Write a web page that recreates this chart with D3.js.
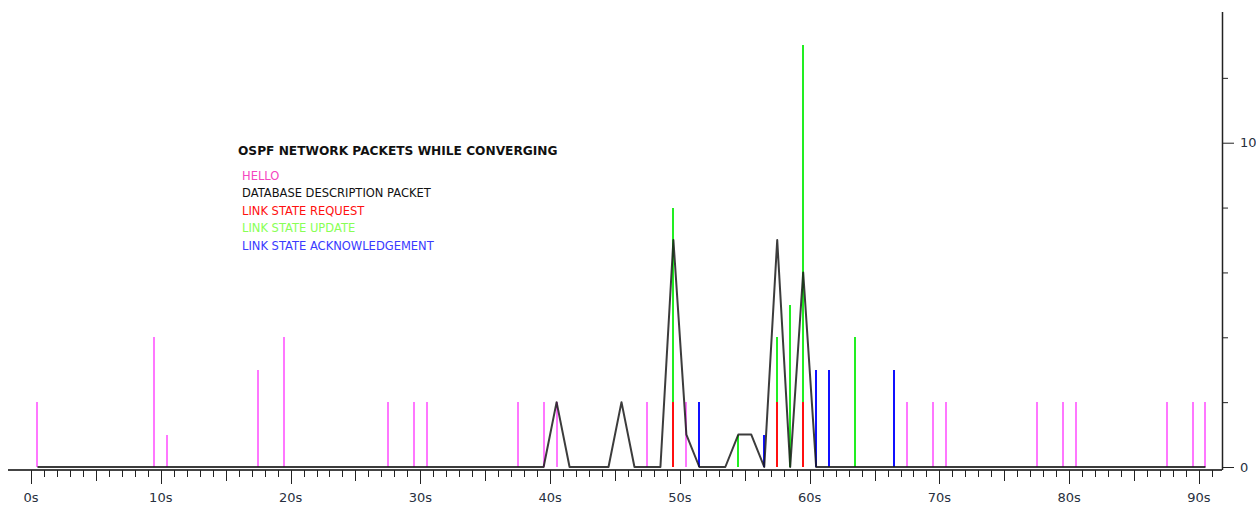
<!DOCTYPE html>
<html>
<head>
<meta charset="utf-8">
<script src="https://cdn.jsdelivr.net/npm/d3@7"></script>
<style>
  body { margin: 0; background: #fff; }
  svg { display: block; }
  text { font-family: Tahoma, "DejaVu Sans", sans-serif; }
</style>
</head>
<body>
<div id="wrapper"></div>
<script>
'use strict';

// packet counts per second
const helloTimes   = [0.5, 9.5, 10.5, 17.5, 19.5, 27.5, 29.5, 30.5, 37.5, 39.5, 40.5, 47.5, 50.5, 67.5, 69.5, 70.5, 77.5, 79.5, 80.5, 87.5, 89.5, 90.5];
const helloCounts  = [2, 4, 1, 3, 4, 2, 2, 2, 2, 2, 2, 2, 2, 2, 2, 2, 2, 2, 2, 2, 2, 2];

const updateTimes  = [49.5, 54.5, 57.5, 58.5, 59.5, 63.5];
const updateCounts = [8, 1, 4, 5, 13, 4];

const requestTimes  = [49.5, 57.5, 59.5];
const requestCounts = [2, 2, 2];

const ackTimes  = [51.5, 56.5, 60.5, 61.5, 66.5];
const ackCounts = [2, 1, 3, 3, 3];

// database description packets, drawn as a line (vertices where the line bends)
const dbdTimes  = [0.5, 39.5, 40.5, 41.5, 44.5, 45.5, 46.5, 48.5, 49.5, 50.5, 51.5, 53.5, 54.5, 55.5, 56.5, 57.5, 58.5, 59.5, 60.5, 90.5];
const dbdCounts = [0, 0, 2, 0, 0, 2, 0, 0, 7, 1, 0, 0, 1, 1, 0, 7, 0, 6, 0, 0];

const xTickLabels = [0, 10, 20, 30, 40, 50, 60, 70, 80, 90];
const yTickValues = [0, 2, 4, 6, 8, 10, 12];
const yTickLabels = [0, 10];

const legendItems = ['HELLO', 'DATABASE DESCRIPTION PACKET', 'LINK STATE REQUEST', 'LINK STATE UPDATE', 'LINK STATE ACKNOWLEDGEMENT'];
const legendColors = ['#f545c0', '#111111', '#ff1010', '#88ff55', '#3a3aff'];

function drawChart () {
  const width = 1256;
  const height = 508;

  const xScale = d3.scaleLinear()
    .domain([0, 90])
    .range([31, 1199]);

  const yScale = d3.scaleLinear()
    .domain([0, 14])
    .range([467, 13]);

  const svg = d3.select('#wrapper')
    .append('svg')
    .attr('width', width)
    .attr('height', height);

  // bottom axis: line + 1s / 5s / 10s ticks
  const axisY = 470;
  svg.append('line')
    .attr('x1', 8).attr('x2', 1222)
    .attr('y1', axisY).attr('y2', axisY)
    .attr('stroke', '#444').attr('stroke-width', 2);

  const secondTicks = d3.range(0, 92);
  svg.append('g')
    .selectAll('line')
    .data(secondTicks)
    .join('line')
    .attr('x1', d => Math.round(xScale(d)) + 0.5)
    .attr('x2', d => Math.round(xScale(d)) + 0.5)
    .attr('y1', axisY)
    .attr('y2', d => d % 10 === 0 ? 484 : d % 5 === 0 ? 481 : 477)
    .attr('stroke', '#222')
    .attr('stroke-width', 1);

  svg.append('g')
    .selectAll('text')
    .data(xTickLabels)
    .join('text')
    .attr('x', d => xScale(d))
    .attr('y', 502)
    .attr('text-anchor', 'middle')
    .attr('font-size', 13)
    .attr('fill', '#283040')
    .text(d => d + 's');

  // right axis
  const yAxis = d3.axisRight(yScale)
    .tickValues(yTickValues)
    .tickSize(6)
    .tickFormat(d => yTickLabels.includes(d) ? d : '');

  const yAxisG = svg.append('g')
    .attr('transform', 'translate(1222,0)')
    .call(yAxis);
  yAxisG.select('.domain')
    .attr('d', `M0.5,12V${axisY}`)
    .attr('stroke', '#222')
    .attr('stroke-width', 1.5);
  yAxisG.selectAll('.tick line')
    .attr('x2', d => yTickLabels.includes(d) ? 12 : 6)
    .attr('stroke', '#222');
  yAxisG.selectAll('.tick text')
    .attr('x', 18)
    .attr('font-size', 13)
    .attr('font-family', 'Tahoma, "DejaVu Sans", sans-serif')
    .attr('fill', '#283040');

  // spikes for the packet types (crisp so overlapping spikes cover each other)
  const spikes = (times, counts, color) => {
    svg.append('g')
      .selectAll('rect')
      .data(times.map((t, i) => ({ t, v: counts[i] })))
      .join('rect')
      .attr('x', d => Math.round(xScale(d.t)) - 1)
      .attr('width', 2)
      .attr('y', d => yScale(d.v))
      .attr('height', d => yScale(0) - yScale(d.v))
      .attr('shape-rendering', 'crispEdges')
      .attr('fill', color);
  };

  spikes(helloTimes, helloCounts, '#ff77ff');
  spikes(updateTimes, updateCounts, '#22ee22');
  spikes(requestTimes, requestCounts, '#ff1010');
  spikes(ackTimes, ackCounts, '#1010ff');

  const lineGenerator = d3.line()
    .x((d, i) => xScale(dbdTimes[i]))
    .y(d => yScale(d));

  svg.append('path')
    .attr('d', lineGenerator(dbdCounts))
    .attr('fill', 'none')
    .attr('stroke', '#1a1a1a')
    .attr('stroke-opacity', 0.85)
    .attr('stroke-width', 2)
    .attr('stroke-linejoin', 'round');

  // title + legend
  svg.append('text')
    .attr('x', 238)
    .attr('y', 155)
    .attr('font-family', 'Arial, "Liberation Sans", sans-serif')
    .attr('font-weight', 'bold')
    .attr('font-size', 12.2)
    .attr('fill', '#111')
    .text('OSPF NETWORK PACKETS WHILE CONVERGING');

  svg.append('g')
    .selectAll('text')
    .data(legendItems)
    .join('text')
    .attr('x', 242)
    .attr('y', (d, i) => 180 + i * 17.4)
    .attr('font-family', '"DejaVu Sans", sans-serif')
    .attr('font-size', 11.5)
    .attr('fill', (d, i) => legendColors[i])
    .text(d => d);
}

drawChart();
</script>
</body>
</html>
